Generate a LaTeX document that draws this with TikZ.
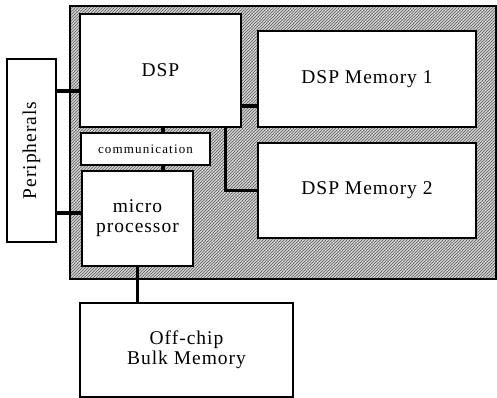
\documentclass[tikz,border=0pt]{standalone}
\usepackage{fontspec}
\setmainfont{Liberation Serif}
\usetikzlibrary{patterns}

\tikzset{
  block/.style={draw=black, line width=1.2pt, fill=white, inner sep=0pt,
    align=center, font=\fontsize{19.5}{23}\selectfont\addfontfeature{LetterSpace=5}},
  bus/.style={line width=3.5pt, black}
}

\begin{document}
\begin{tikzpicture}[x=1pt, y=-1pt]
\useasboundingbox (0,0) rectangle (497,398);

% chip area
\fill[gray!40] (70,6) rectangle (496,279);
\fill[pattern=north east lines, pattern color=gray!80!black] (70,6) rectangle (496,279);
\draw[line width=1.2pt] (70,6) rectangle (496,279);

% blocks
\node[block, minimum width=161pt, minimum height=113pt] (dsp) at (160.5,70.5) {DSP};
\node[block, minimum width=218pt, minimum height=96pt] (mem1) at (367,79) {DSP Memory 1};
\node[block, minimum width=218pt, minimum height=95pt] (mem2) at (367,190.5) {DSP Memory 2};
\node[block, minimum width=129pt, minimum height=32pt,
  font=\fontsize{13}{15}\selectfont\addfontfeature{LetterSpace=9}] (comm) at (145.5,149) {communication};
\node[block, minimum width=111pt, minimum height=95pt] (micro) at (137.5,218.5) {micro\\[-3pt]processor};
\node[block, minimum width=49pt, minimum height=183pt] (per) at (31.5,150.5) {\rotatebox{90}{Peripherals}};
\node[block, minimum width=213pt, minimum height=94pt] (bulk) at (186.5,350) {Off-chip\\[-3pt]Bulk Memory};

% connections
\draw[bus] (per.east |- 0,91) -- (dsp.west |- 0,91);
\draw[bus] (per.east |- 0,213) -- (micro.west |- 0,213);
\draw[bus] (dsp.east |- 0,106) -- (mem1.west |- 0,106);
\draw[bus] ([xshift=-16pt]dsp.south east) |- (mem2.west);
\draw[bus] (dsp.south -| 163,0) -- (comm.north -| 163,0);
\draw[bus] (comm.south -| 163,0) -- (micro.north -| 163,0);
\draw[bus] (micro.south) -- (micro.south |- bulk.north);
\end{tikzpicture}
\end{document}
